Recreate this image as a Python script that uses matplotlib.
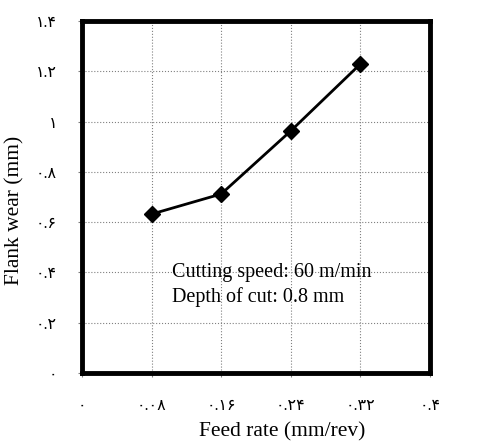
import matplotlib
matplotlib.use("Agg")
import matplotlib.pyplot as plt

feed_rate = [0.08, 0.16, 0.24, 0.32]
flank_wear = [0.632, 0.712, 0.963, 1.229]

x_ticks = [0, 0.08, 0.16, 0.24, 0.32, 0.4]
x_labels = ["۰", "۰.۰۸", "۰.۱۶", "۰.۲۴", "۰.۳۲", "۰.۴"]
y_ticks = [0, 0.2, 0.4, 0.6, 0.8, 1.0, 1.2, 1.4]
y_labels = ["۰", "۰.۲", "۰.۴", "۰.۶", "۰.۸", "۱", "۱.۲", "۱.۴"]

fonts = ["Liberation Serif", "DejaVu Sans"]
plt.rcParams["font.family"] = fonts

fig = plt.figure(figsize=(4.83, 4.41), dpi=100)
ax = fig.add_axes([82 / 483, 68 / 441, 348 / 483, 352 / 441])

ax.plot(feed_rate, flank_wear, color="black", linewidth=2,
        marker="D", markersize=8, zorder=3)

ax.set_xlim(0, 0.4)
ax.set_ylim(0, 1.4)
ax.set_xticks(x_ticks)
ax.set_xticklabels(x_labels, fontsize=11.5)
ax.set_yticks(y_ticks)
ax.set_yticklabels(y_labels, fontsize=11.5)
ax.tick_params(axis="x", direction="out", length=3, pad=15, color="gray")
ax.tick_params(axis="y", direction="out", length=3, pad=15, color="gray")
ax.grid(True, color="gray", linestyle=":", linewidth=0.8)

for s in ax.spines.values():
    s.set_linewidth(3.5)

ax.set_xlabel("Feed rate (mm/rev)", fontsize=15.5, va="baseline")
ax.xaxis.set_label_coords(0.575, -0.179)
ax.set_ylabel("Flank wear (mm)", fontsize=15.5)
ax.yaxis.set_label_coords(-0.165, 0.463)

ax.text(0.104, 0.398, "Cutting speed: 60 m/min", fontsize=14.5, va="center")
ax.text(0.104, 0.302, "Depth of cut: 0.8 mm", fontsize=14.5, va="center")

fig.savefig("out.png", dpi=100)
